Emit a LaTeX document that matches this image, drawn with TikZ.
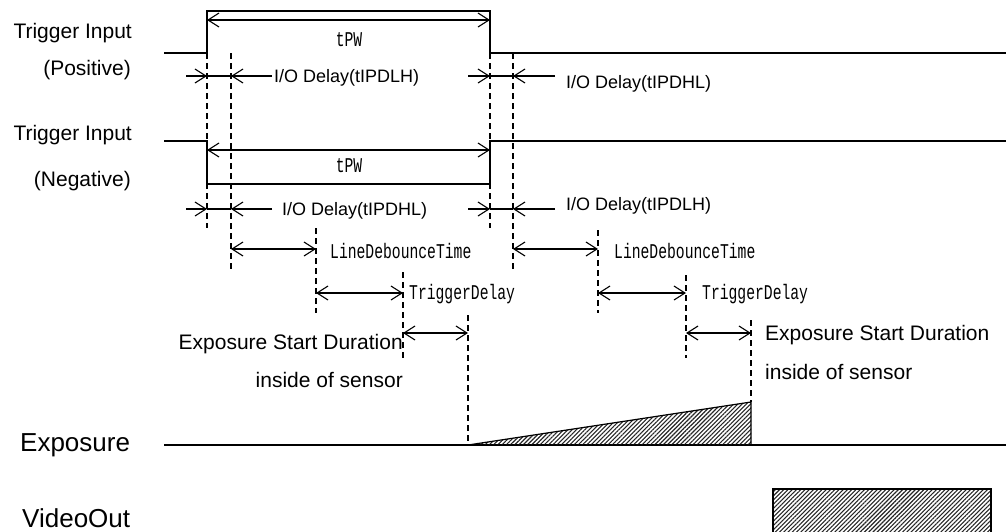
\documentclass[tikz,border=0pt]{standalone}
\usepackage{fontspec}
\setmainfont{Liberation Sans}
\newfontfamily\gothic[FakeStretch=0.7]{Liberation Mono}
\usetikzlibrary{arrows.meta,patterns.meta}

\tikzset{
  sig/.style={line width=1.4pt},
  guide/.style={line width=1.1pt,dash pattern=on 6pt off 4pt},
  dim/.style={line width=1.1pt},
  barb/.tip={Straight Barb[length=11pt,width=14pt,line width=1.1pt]},
  hatch/.style={pattern={Lines[angle=45,distance=3pt,line width=1.1pt]},pattern color=black!85},
  lbl/.style={inner sep=0pt,font=\fontsize{21}{21}\selectfont},
  io/.style={inner sep=0pt,font=\fontsize{18}{18}\selectfont},
  mono/.style={inner sep=0pt,font=\gothic\fontsize{21}{21}\selectfont},
  big/.style={inner sep=0pt,font=\fontsize{26}{26}\selectfont},
}

\begin{document}
\begin{tikzpicture}[x=1pt,y=-1pt]
      \useasboundingbox (0,0) rectangle (1006,531);

      % signals
      \draw[sig] (164,53) -- (207,53) -- (207,11) -- (490,11) -- (490,53) -- (1006,53);
      \draw[sig] (164,141) -- (207,141) -- (207,184) -- (490,184) -- (490,141) -- (1006,141);
      \draw[sig] (164,445) -- (1006,445);
      \draw[line width=1.2pt,hatch] (468,445) -- (751,402) -- (751,445) -- cycle;
      \draw[sig,hatch] (773,489) rectangle (991,545);

      % signal names
      \node[lbl,anchor=east] (posname) at (132,33) {Trigger Input};
      \node[lbl,anchor=east] (possense) at (131,70) {(Positive)};
      \node[lbl,anchor=east] (negname) at (132,135) {Trigger Input};
      \node[lbl,anchor=east] (negsense) at (131,181) {(Negative)};
      \node[big,anchor=west] (expname) at (20,445) {Exposure};
      \node[big,anchor=west] (vidname) at (22,518) {VideoOut};

      % guide lines
      \foreach \x/\ya/\yb in {207/53/228, 231/53/272, 490/53/228, 513/53/272,
                              316/228/313, 403/272/358, 468/315/445,
                              598/230/313, 686/275/358, 751/320/402}
        \draw[guide] (\x,\ya) -- (\x,\yb);

      % pulse width
      \draw[dim,barb-barb] (207,20) -- (490,20);
      \draw[dim,barb-barb] (207,150) -- (490,150);
      \node[mono] (pwpos) at (349,40) {tPW};
      \node[mono] (pwneg) at (349,166) {tPW};

      % I/O delays
      \foreach \y in {76,209} {
        \draw[dim,-barb] (186,\y) -- (207,\y);
        \draw[dim] (207,\y) -- (231,\y);
        \draw[dim,-barb] (272,\y) -- (231,\y);
        \draw[dim,-barb] (468,\y) -- (490,\y);
        \draw[dim] (490,\y) -- (513,\y);
        \draw[dim,-barb] (555,\y) -- (513,\y);
      }
      \node[io,anchor=west] (iopr) at (274,78) {I/O Delay(tIPDLH)};
      \node[io,anchor=west] (iopf) at (566,84) {I/O Delay(tIPDHL)};
      \node[io,anchor=west] (ionf) at (282,211) {I/O Delay(tIPDHL)};
      \node[io,anchor=west] (ionr) at (566,206) {I/O Delay(tIPDLH)};

      % debounce, delay, sensor start
      \draw[dim,barb-barb] (231,249) -- (316,249);
      \draw[dim,barb-barb] (513,249) -- (598,249);
      \node[mono,anchor=west] (debA) at (330,251) {LineDebounceTime};
      \node[mono,anchor=west] (debB) at (614,251) {LineDebounceTime};

      \draw[dim,barb-barb] (316,293) -- (403,293);
      \draw[dim,barb-barb] (598,293) -- (686,293);
      \node[mono,anchor=west] (dlyA) at (409,294) {TriggerDelay};
      \node[mono,anchor=west] (dlyB) at (702,294) {TriggerDelay};

      \draw[dim,barb-barb] (403,333) -- (468,333);
      \draw[dim,barb-barb] (686,333) -- (751,333);
      \node[lbl,anchor=east] (senA) at (403,344) {Exposure Start Duration};
      \node[lbl,anchor=east] (insA) at (403,380) {inside of sensor};
      \node[lbl,anchor=west] (senB) at (765,335) {Exposure Start Duration};
      \node[lbl,anchor=west] (insB) at (765,372) {inside of sensor};
\end{tikzpicture}
\end{document}
